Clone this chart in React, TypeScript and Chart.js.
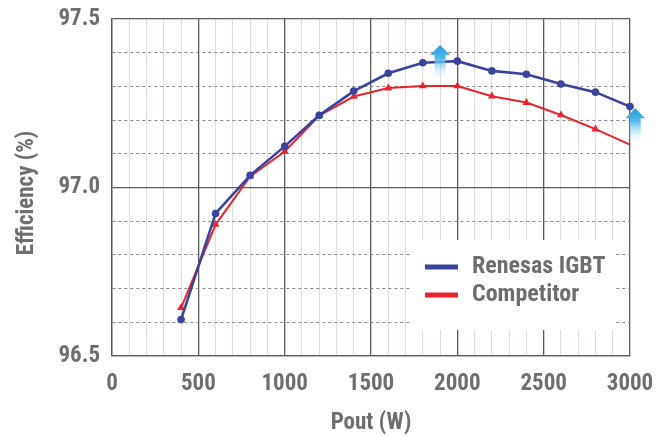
import React, { useEffect, useRef } from 'react';
import { Chart, registerables } from 'chart.js';

Chart.register(...registerables);

// ---- data ----
const powerW = [400, 600, 800, 1000, 1200, 1400, 1600, 1800, 2000, 2200, 2400, 2600, 2800, 3000];
const renesasIGBT = [96.608, 96.923, 97.036, 97.122, 97.214, 97.286, 97.339, 97.370, 97.375, 97.346, 97.336, 97.307, 97.283, 97.240];
const competitor = [96.643, 96.890, 97.033, 97.107, 97.213, 97.270, 97.295, 97.301, 97.301, 97.271, 97.252, 97.215, 97.173, 97.127];
const seriesNames = ['Renesas IGBT', 'Competitor'];
const xTickLabels = ['0', '500', '1000', '1500', '2000', '2500', '3000'];
const yTickLabels = ['96.5', '97.0', '97.5'];
const xTitle = 'Pout (W)';
const yTitle = 'Efficiency (%)';
// improvement arrows (data coordinates)
const arrowX = [1900, 3030];
const arrowTop = [97.423, 97.235];
const arrowBottom = [97.315, 97.128];

const FONT = "'Roboto Condensed', 'DejaVu Sans Condensed', sans-serif";
const TEXT = '#6d6e71';
const BLUE = '#3a449c';
const RED = '#e8242e';
const MAJOR = '#5c5c5c';

const isMajorY = (v: number) => Math.abs(v * 2 - Math.round(v * 2)) < 1e-6;

const decorPlugin = {
  id: 'decor',
  beforeDatasetsDraw(chart: any) {
    const { ctx, chartArea } = chart;
    // legend box
    const bx = chartArea.left + 298;
    const by = chartArea.top + 221;
    ctx.save();
    ctx.fillStyle = '#ffffff';
    ctx.fillRect(bx, by, 205, 90);
    const colors = [BLUE, RED];
    ctx.font = `bold 24px ${FONT}`;
    ctx.textBaseline = 'middle';
    ctx.textAlign = 'left';
    seriesNames.forEach((name, i) => {
      const y = by + 27 + i * 28;
      ctx.fillStyle = colors[i];
      ctx.fillRect(bx + 15, y - 2.5, 33, 5);
      ctx.fillStyle = TEXT;
      ctx.fillText(name, bx + 62, y);
    });
    // y-axis title
    ctx.save();
    ctx.translate(27, chartArea.top + 174);
    ctx.rotate(-Math.PI / 2);
    ctx.font = `bold 23px ${FONT}`;
    ctx.textAlign = 'center';
    ctx.textBaseline = 'middle';
    ctx.fillStyle = TEXT;
    ctx.fillText(yTitle, 0, 0);
    ctx.restore();
    ctx.restore();
  },
  afterDatasetsDraw(chart: any) {
    const { ctx } = chart;
    const xs = chart.scales.x;
    const ys = chart.scales.y;
    ctx.save();
    arrowX.forEach((xv, i) => {
      const cx = xs.getPixelForValue(xv);
      const top = ys.getPixelForValue(arrowTop[i]);
      const bottom = ys.getPixelForValue(arrowBottom[i]);
      const headH = 10;
      const headW = 10;
      const shaftW = 5.5;
      const g = ctx.createLinearGradient(0, top, 0, bottom);
      g.addColorStop(0, 'rgba(30,158,222,1)');
      g.addColorStop(0.35, 'rgba(70,180,232,0.95)');
      g.addColorStop(1, 'rgba(255,255,255,0)');
      ctx.fillStyle = g;
      ctx.beginPath();
      ctx.moveTo(cx, top);
      ctx.lineTo(cx + headW, top + headH);
      ctx.lineTo(cx + shaftW, top + headH);
      ctx.lineTo(cx + shaftW, bottom);
      ctx.lineTo(cx - shaftW, bottom);
      ctx.lineTo(cx - shaftW, top + headH);
      ctx.lineTo(cx - headW, top + headH);
      ctx.closePath();
      ctx.fill();
    });
    ctx.restore();
  },
};

export default function App() {
  const ref = useRef<HTMLCanvasElement | null>(null);

  useEffect(() => {
    if (!ref.current) return;
    const chart = new Chart(ref.current, {
      type: 'line',
      data: {
        datasets: [
          {
            label: seriesNames[0],
            data: powerW.map((x, i) => ({ x, y: renesasIGBT[i] })),
            borderColor: BLUE,
            backgroundColor: BLUE,
            borderWidth: 2.6,
            pointStyle: 'circle',
            pointRadius: 3.8,
            pointBorderWidth: 0,
            tension: 0,
            clip: 10,
            order: 1,
          },
          {
            label: seriesNames[1],
            data: powerW.map((x, i) => ({ x, y: competitor[i] })),
            borderColor: RED,
            backgroundColor: RED,
            borderWidth: 2,
            pointStyle: 'triangle',
            pointRadius: (c: any) => (c.dataIndex === competitor.length - 1 ? 0 : 4.6),
            pointBorderWidth: 0,
            tension: 0,
            clip: 10,
            order: 2,
          },
        ],
      },
      options: {
        responsive: false,
        animation: false,
        devicePixelRatio: 1,
        layout: { padding: { top: 19, right: 35, left: 0, bottom: 0 } },
        plugins: {
          legend: { display: false },
          tooltip: { enabled: false },
        },
        scales: {
          x: {
            type: 'linear',
            min: 0,
            max: 3000,
            afterFit: (s: any) => {
              s.height = 81;
              s.paddingLeft = 0;
              s.paddingRight = 0;
            },
            ticks: {
              stepSize: 100,
              autoSkip: false,
              maxRotation: 0,
              padding: 14,
              color: TEXT,
              font: { family: FONT, size: 23, weight: 'bold' },
              callback: (v: any) => (xTickLabels.includes(String(v)) ? String(v) : ''),
            },
            grid: {
              drawTicks: false,
              color: (c: any) => (c.tick && c.tick.value % 500 === 0 ? MAJOR : '#e3dada'),
              lineWidth: (c: any) => (c.tick && c.tick.value % 500 === 0 ? 1.3 : 1),
            },
            border: { color: MAJOR, width: 1.3 },
            title: {
              display: true,
              text: xTitle,
              color: TEXT,
              font: { family: FONT, size: 23, weight: 'bold' },
              padding: { top: 0, bottom: 0 },
            },
          },
          y: {
            type: 'linear',
            min: 96.5,
            max: 97.5,
            afterFit: (s: any) => {
              s.width = 112;
              s.paddingTop = 0;
              s.paddingBottom = 0;
            },
            ticks: {
              stepSize: 0.1,
              autoSkip: false,
              padding: 12,
              color: TEXT,
              font: { family: FONT, size: 23, weight: 'bold' },
              callback: (v: any) => {
                const n = Number(v);
                const s = n.toFixed(1);
                return isMajorY(n) && yTickLabels.includes(s) ? s : '';
              },
            },
            grid: {
              drawTicks: false,
              color: (c: any) => (c.tick && isMajorY(c.tick.value) ? MAJOR : '#8e8585'),
              lineWidth: (c: any) => (c.tick && isMajorY(c.tick.value) ? 1.3 : 1),
            },
            border: {
              color: MAJOR,
              width: 1.3,
              dash: (c: any) => (c.tick && !isMajorY(c.tick.value) ? [3, 3] : []),
            },
            title: { display: false },
          },
        },
      } as any,
      plugins: [decorPlugin],
    });
    return () => chart.destroy();
  }, []);

  return (
    <div style={{ position: 'absolute', left: 0, top: 0, width: 665, height: 437, background: '#ffffff' }}>
      <canvas ref={ref} width={665} height={437} style={{ display: 'block', width: 665, height: 437 }} />
    </div>
  );
}
